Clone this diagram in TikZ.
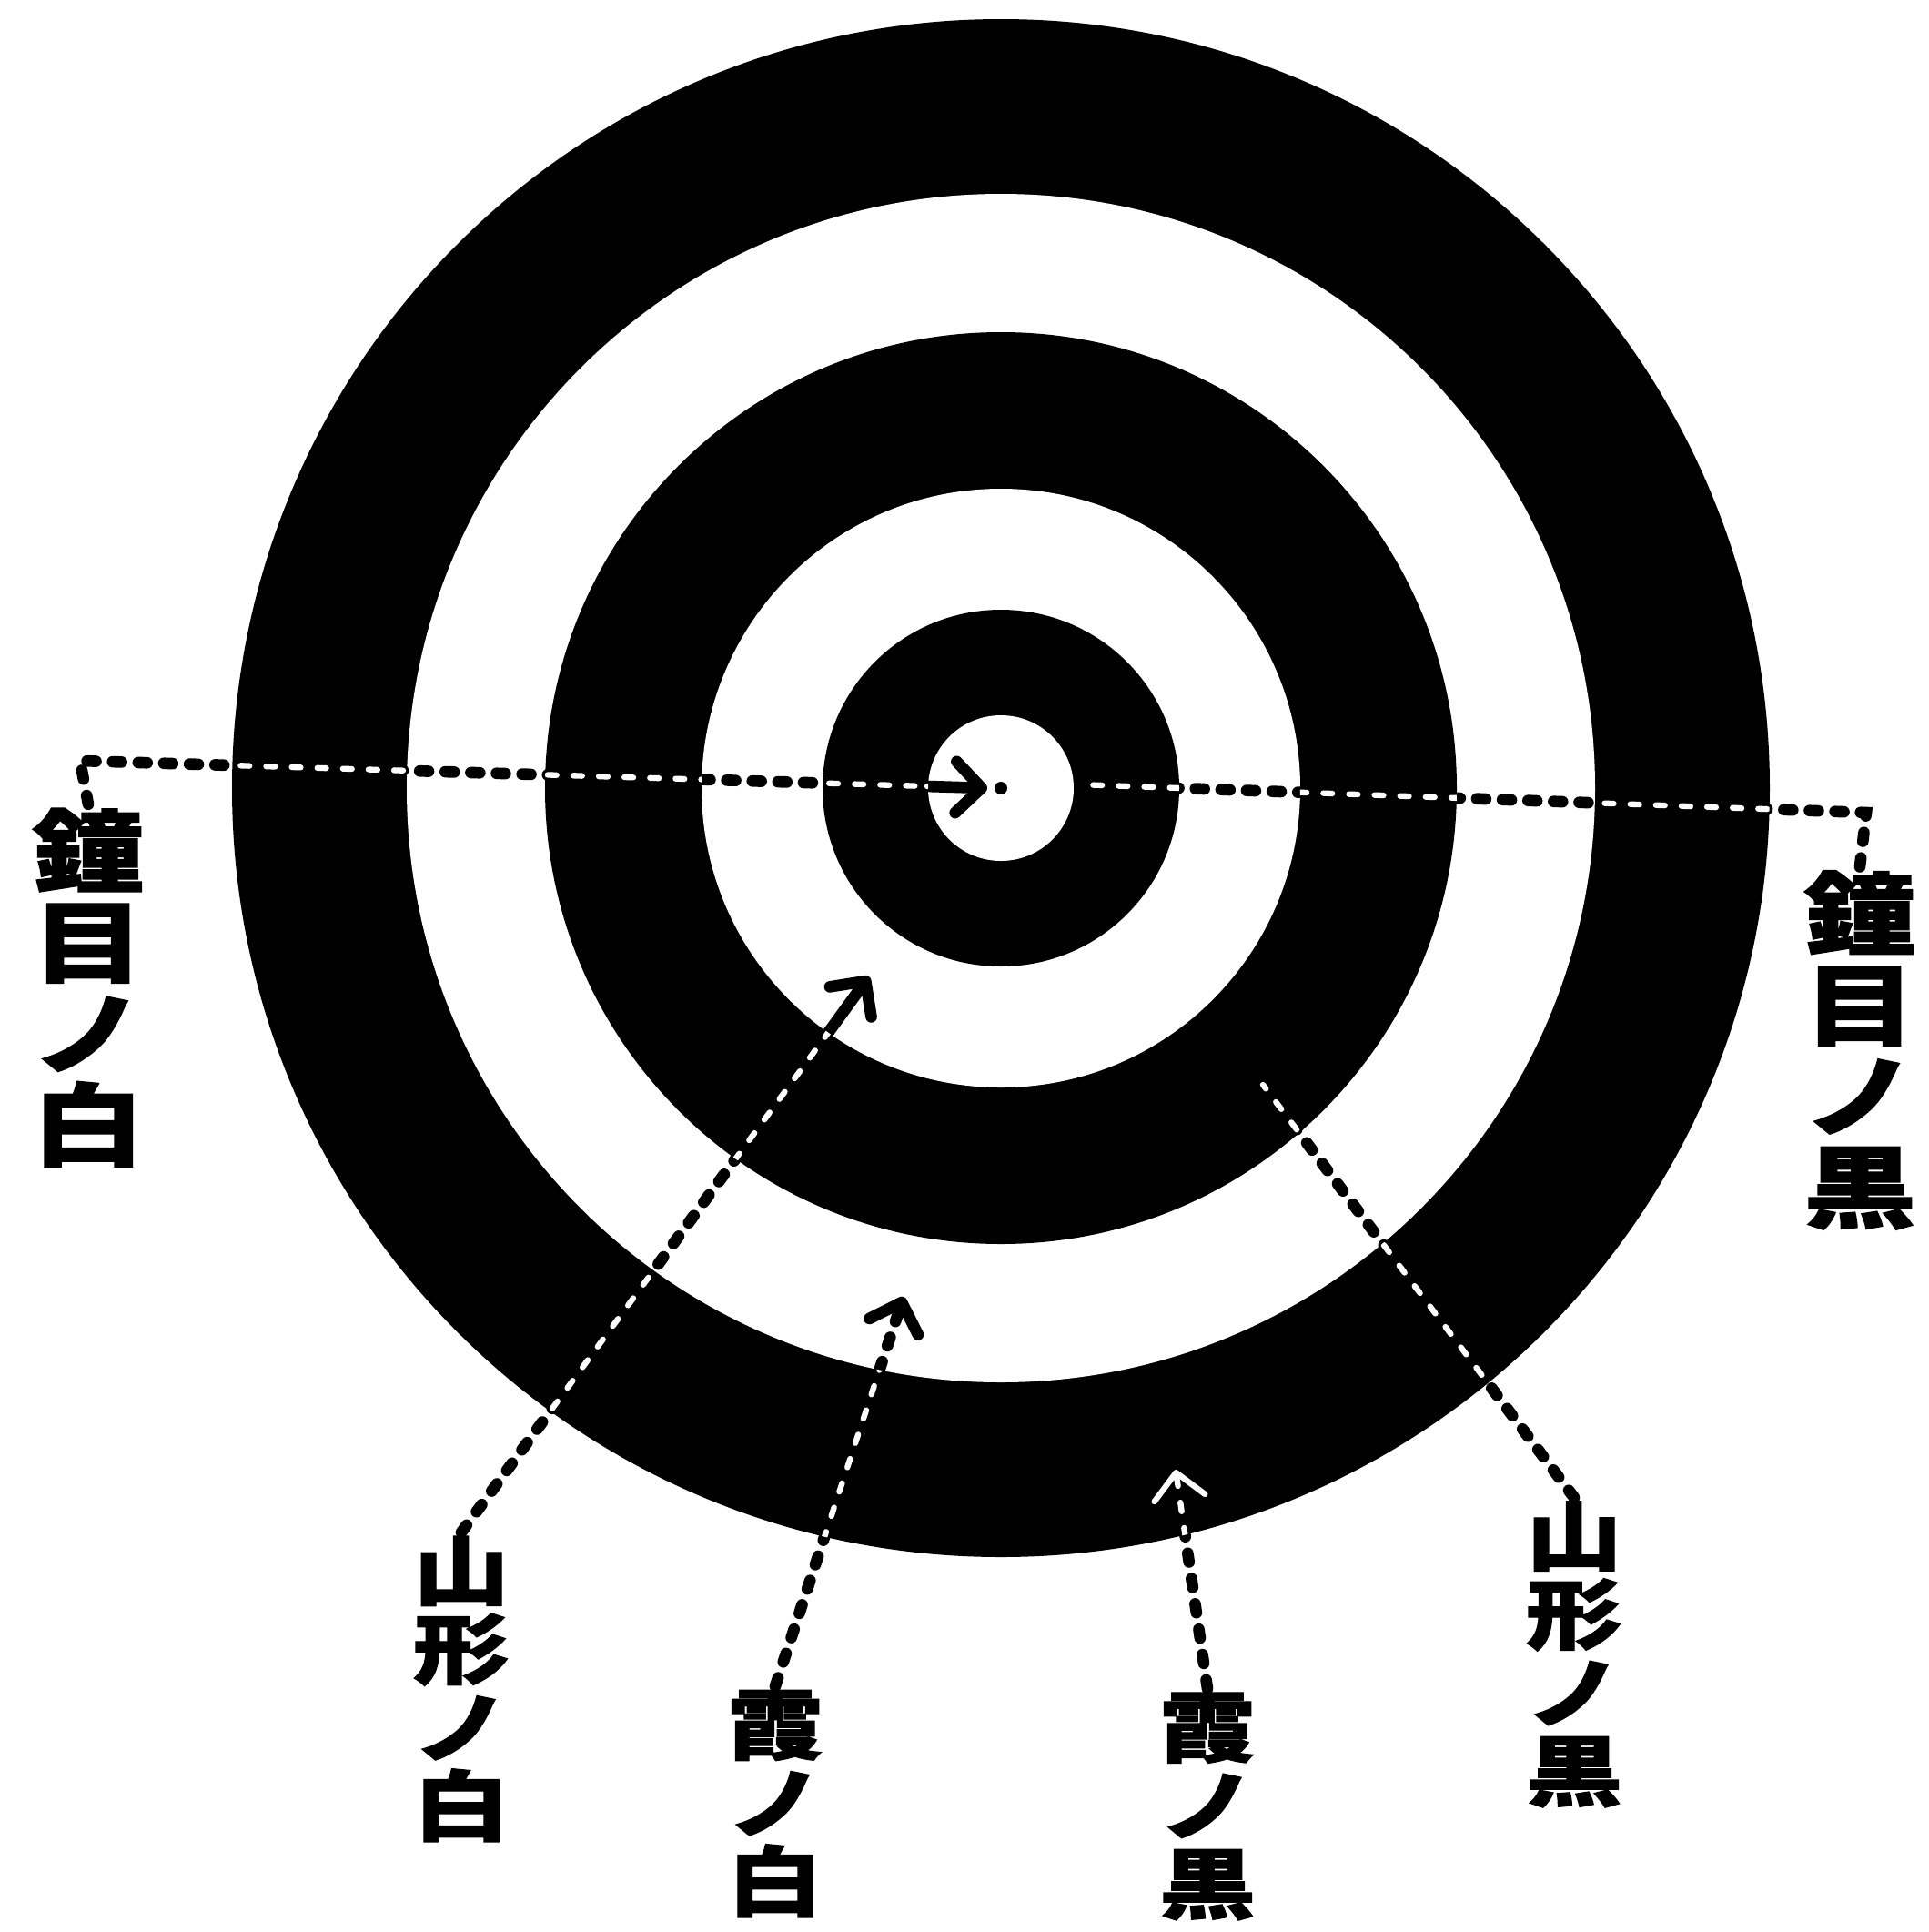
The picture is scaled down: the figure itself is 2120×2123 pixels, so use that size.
\documentclass[tikz,border=0pt]{standalone}
\usepackage{fontspec}
\newfontfamily\jpfont{Noto Sans CJK JP}[FakeStretch=1.25,BoldFeatures={FakeBold=1.5}]
\usetikzlibrary{arrows.meta,calc}
\tikzset{
  biglabel/.style   = {font=\jpfont\bfseries\fontsize{28}{28.5}\selectfont,
                       align=center, inner sep=1pt},
  smalllabel/.style = {font=\jpfont\bfseries\fontsize{24}{24.5}\selectfont,
                       align=center, inner sep=1pt},
  leader/.style     = {line width=3.6pt, line cap=round,
                       dash pattern=on 2.8pt off 5.2pt},
  shaft/.style      = {line width=3.6pt, line cap=round},
  barb/.style       = {-{Straight Barb[length=8pt,width=16pt,round]}},
  inblack/.style    = {white, line width=1.8pt},
}
% all leader lines, drawn once in black and once in white over the black rings
\newcommand{\leaderlines}[1]{%
  \draw[leader,#1] (lblL.north) -- (bendL) -- (shaftL);
  \draw[shaft,barb,#1] (shaftL) -- (tipL);
  \draw[leader,#1] (lblR.north) -- (bendR) -- (endR);
  \draw[leader,#1] (lblYW.north) -- (shaftYW);
  \draw[shaft,barb,#1] (shaftYW) -- (tipYW);
  \draw[leader,barb,#1] (lblKW.north) -- (tipKW);
  \draw[leader,barb,#1] (lblKK.north) -- (tipKK);
  \draw[leader,#1] (lblYK.north) -- (endYK);
}

\begin{document}
\begin{tikzpicture}[x=0.01cm,y=-0.01cm]
\useasboundingbox (0,0) rectangle (2120,2123);
\coordinate (C) at (1100,866);
% ---------- target rings ----------
\fill[black] (C) circle[radius=845];
\fill[white] (C) circle[radius=653];
\fill[black] (C) circle[radius=501];
\fill[white] (C) circle[radius=329];
\fill[black] (C) circle[radius=196];
\fill[white] (C) circle[radius=80];
\fill[black] (C) circle[radius=7];
% ---------- labels ----------
\node[biglabel]   (lblL)  at (97,1085)  {鐘\\目\\ノ\\白};
\node[biglabel]   (lblR)  at (2044,1154) {鐘\\目\\ノ\\黒};
\node[smalllabel] (lblYW) at (507,1856)  {山\\形\\ノ\\白};
\node[smalllabel] (lblKW) at (852,1982)  {霞\\ノ\\白};
\node[smalllabel] (lblKK) at (1327,1985) {霞\\ノ\\黒};
\node[smalllabel] (lblYK) at (1730,1818) {山\\形\\ノ\\黒};
% ---------- leader points ----------
\coordinate (bendL)   at (88,836);
\coordinate (shaftL)  at (1019,864);
\coordinate (tipL)    at (1085,866);
\coordinate (bendR)   at (2051,893);
\coordinate (endR)    at (1185,862);
\coordinate (shaftYW) at (910,1135);
\coordinate (tipYW)   at (955,1073);
\coordinate (tipKW)   at (993,1425);
\coordinate (tipKK)   at (1292,1615);
\coordinate (endYK)   at (1388,1192);
\leaderlines{black}
% white dashes where the leaders cross the black rings
\begin{scope}[shift={(C)}]
\clip (845,0) arc[start angle=0,end angle=360,radius=845]
   -- (653,0) arc[start angle=360,end angle=0,radius=653] -- cycle
      (501,0) arc[start angle=0,end angle=360,radius=501]
   -- (329,0) arc[start angle=360,end angle=0,radius=329] -- cycle
      (196,0) arc[start angle=0,end angle=360,radius=196]
   -- (80,0) arc[start angle=360,end angle=0,radius=80] -- cycle;
\leaderlines{inblack}
\end{scope}
\end{tikzpicture}
\end{document}
